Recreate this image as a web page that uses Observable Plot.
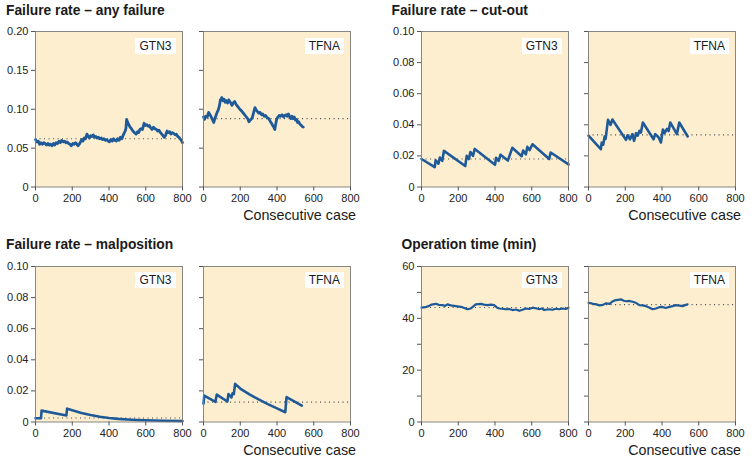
<!DOCTYPE html>
<html>
<head>
<meta charset="utf-8">
<script src="https://cdn.jsdelivr.net/npm/d3@7"></script>
<script src="https://cdn.jsdelivr.net/npm/@observablehq/plot@0.6"></script>
<style>
  body { margin: 0; background: #fff; }
  #root { position: relative; width: 755px; height: 461px; background: #fff; font-family: "Liberation Sans", Arial, sans-serif; overflow: hidden; }
  .title { position: absolute; font-size: 13.8px; font-weight: bold; color: #1a1a1a; white-space: nowrap; line-height: 1; }
  .xlab { position: absolute; font-size: 14.3px; color: #1a1a1a; white-space: nowrap; line-height: 1; text-align: right; }
  .tag { position: absolute; background: #fff; font-size: 12px; color: #1a1a1a; line-height: 16px; height: 16px; padding: 0 4px; white-space: nowrap; }
  .panel { position: absolute; }
</style>
</head>
<body>
<div id="root"></div>
<script>
// ---------- data ----------
const groupTitles = ["Failure rate – any failure", "Failure rate – cut-out", "Failure rate – malposition", "Operation time (min)"];
const implants = ["GTN3", "TFNA"];
const xTicks = [0, 200, 400, 600, 800];
const xLabel = "Consecutive case";

// any failure
const anyGTN3Case = [0,8,15,22,30,38,45,52,60,68,75,82,90,98,105,112,120,128,135,142,150,158,165,172,180,188,195,203,210,218,225,232,238,245,252,258,265,272,280,287,294,300,307,314,320,328,335,342,350,358,365,372,380,388,395,402,410,418,425,432,440,447,455,462,470,476,482,488,492,496,500,508,515,522,530,538,548,555,562,568,575,582,591,598,606,614,620,627,634,642,650,658,665,672,680,687,694,700,707,716,722,730,737,745,752,760,767,774,780,787,794,800];
const anyGTN3Rate = [0.061,0.058,0.059,0.055,0.057,0.055,0.057,0.056,0.054,0.056,0.054,0.055,0.053,0.056,0.054,0.057,0.056,0.059,0.057,0.060,0.058,0.059,0.057,0.058,0.056,0.055,0.053,0.056,0.055,0.057,0.055,0.053,0.055,0.058,0.061,0.059,0.063,0.062,0.068,0.065,0.063,0.066,0.065,0.067,0.064,0.065,0.063,0.064,0.062,0.063,0.061,0.062,0.060,0.061,0.059,0.058,0.061,0.059,0.062,0.060,0.059,0.062,0.060,0.064,0.062,0.066,0.069,0.072,0.075,0.087,0.084,0.080,0.077,0.075,0.072,0.070,0.068,0.071,0.070,0.074,0.075,0.074,0.082,0.079,0.080,0.078,0.079,0.076,0.074,0.077,0.075,0.074,0.072,0.073,0.070,0.068,0.066,0.064,0.066,0.072,0.070,0.071,0.068,0.070,0.069,0.067,0.068,0.065,0.064,0.062,0.060,0.057];
const anyTFNACase = [0,6,12,20,28,35,42,50,56,62,68,74,80,86,92,100,106,112,118,124,131,137,143,149,155,162,170,178,188,198,210,220,230,240,247,255,265,272,280,287,294,300,308,315,322,330,338,346,355,362,370,377,383,388,393,398,405,412,420,428,436,443,450,456,462,470,476,482,488,494,500,506,512,518,524,530,536,543];
const anyTFNARate = [0.090,0.087,0.091,0.090,0.096,0.093,0.090,0.086,0.083,0.088,0.092,0.096,0.099,0.104,0.112,0.115,0.111,0.113,0.109,0.111,0.108,0.112,0.110,0.108,0.105,0.108,0.110,0.106,0.103,0.100,0.097,0.094,0.091,0.088,0.084,0.086,0.089,0.095,0.102,0.099,0.097,0.095,0.096,0.093,0.094,0.091,0.092,0.089,0.088,0.085,0.082,0.079,0.077,0.074,0.081,0.087,0.090,0.092,0.091,0.093,0.090,0.092,0.093,0.091,0.094,0.090,0.088,0.091,0.088,0.090,0.086,0.087,0.083,0.084,0.081,0.080,0.078,0.077];
const anyRef = [0.062, 0.088];

// cut-out
const cutGTN3Case = [0,72,77,92,100,113,122,238,246,258,266,280,290,400,406,420,430,470,494,545,553,568,576,588,604,695,703,800];
const cutGTN3Rate = [0.0180,0.0128,0.0172,0.0150,0.0190,0.0168,0.0232,0.0135,0.0200,0.0180,0.0225,0.0200,0.0245,0.0143,0.0188,0.0168,0.0208,0.0170,0.0252,0.0198,0.0235,0.0210,0.0258,0.0237,0.0275,0.0180,0.0222,0.0145];
const cutTFNACase = [0,67,72,80,88,93,106,120,130,204,213,226,239,248,259,268,277,285,296,354,363,381,394,405,414,427,436,445,481,494,540];
const cutTFNARate = [0.0330,0.0243,0.0285,0.0272,0.0325,0.0310,0.0432,0.0400,0.0434,0.0303,0.0333,0.0307,0.0340,0.0297,0.0346,0.0330,0.0361,0.0350,0.0415,0.0307,0.0340,0.0320,0.0286,0.0370,0.0346,0.0374,0.0360,0.0415,0.0340,0.0415,0.0325];
const cutRef = [0.018, 0.0335];

// malposition
const malGTN3Case = [0,30,33,168,172,200,250,300,350,400,450,500,550,600,700,800];
const malGTN3Rate = [0.0024,0.0024,0.0073,0.0042,0.0086,0.0075,0.0058,0.0045,0.0034,0.0026,0.0020,0.0016,0.0013,0.0011,0.0008,0.0006];
const malTFNACase = [0,4,65,72,130,136,152,158,165,172,200,250,300,350,400,445,452,535];
const malTFNARate = [0.0118,0.0170,0.0130,0.0176,0.0132,0.0180,0.0158,0.0185,0.0180,0.0245,0.0215,0.0178,0.0145,0.0115,0.0088,0.0063,0.0160,0.0105];
const malRef = [0.0026, 0.0128];

// operation time
const opGTN3Case = [0,20,38,55,78,95,114,128,141,160,186,205,222,240,250,268,282,295,310,323,340,359,378,395,410,423,440,459,478,495,515,532,550,568,585,605,622,641,655,668,682,695,712,732,750,768,785,800];
const opGTN3Time = [44.1,44.3,44.7,45.3,45.6,45.2,45.1,44.8,45.4,45.0,44.7,44.5,44.3,43.8,43.5,43.8,44.6,45.4,45.5,45.6,45.3,45.1,45.3,45.1,44.2,43.8,43.7,43.5,43.6,43.2,43.4,42.9,43.3,43.8,43.6,44.1,43.9,43.5,43.8,43.2,43.4,43.5,43.3,43.7,43.5,43.8,43.6,44.1];
const opTFNACase = [0,10,25,43,60,79,95,115,128,142,160,178,192,205,222,241,260,277,295,313,330,349,367,385,403,420,440,458,476,494,512,525,539];
const opTFNATime = [46.0,45.9,45.6,45.4,45.0,45.2,45.8,45.6,46.4,46.9,47.1,47.3,46.8,46.6,46.7,46.4,45.9,45.1,45.0,44.7,44.2,43.5,43.8,44.3,44.4,44.0,44.4,44.7,45.1,44.9,44.7,45.1,45.4];
const opRef = [44.2, 45.3];

// ---------- layout ----------
const BG = "#fdeecf";
const LINE = "#1f5a98";
const panelW = 147, panelH = 155.5;
const mL = 36, mT = 6, mR = 12, mB = 26;
const groupX = [[34.5, 203], [420.7, 588]];
const groupY = [31, 265.5];

const fmtRate = d => d === 0 ? "0" : d.toFixed(2);
const groups = [
  {title: groupTitles[0], col: 0, row: 0, titleX: 6, xs: [anyGTN3Case, anyTFNACase], ys: [anyGTN3Rate, anyTFNARate], ref: anyRef, ymax: 0.20, yTicks: [0,0.05,0.10,0.15,0.20], yLabels: [0,0.05,0.10,0.15,0.20], fmt: fmtRate, sw: 2.8},
  {title: groupTitles[1], col: 1, row: 0, titleX: 391.5, xs: [cutGTN3Case, cutTFNACase], ys: [cutGTN3Rate, cutTFNARate], ref: cutRef, ymax: 0.10, yTicks: [0,0.02,0.04,0.06,0.08,0.10], yLabels: [0,0.02,0.04,0.06,0.08,0.10], fmt: fmtRate, sw: 2.6},
  {title: groupTitles[2], col: 0, row: 1, titleX: 6, xs: [malGTN3Case, malTFNACase], ys: [malGTN3Rate, malTFNARate], ref: malRef, ymax: 0.10, yTicks: [0,0.02,0.04,0.06,0.08,0.10], yLabels: [0,0.02,0.04,0.06,0.08,0.10], fmt: fmtRate, sw: 2.6},
  {title: groupTitles[3], col: 1, row: 1, titleX: 401.5, xs: [opGTN3Case, opTFNACase], ys: [opGTN3Time, opTFNATime], ref: opRef, ymax: 60, yTicks: [0,10,20,30,40,50,60], yLabels: [0,20,40,60], fmt: d => String(d), sw: 2.2}
];

const root = document.getElementById("root");

for (const g of groups) {
  const top = groupY[g.row];
  const t = document.createElement("div");
  t.className = "title";
  t.textContent = g.title;
  t.style.left = g.titleX + "px";
  t.style.top = (top - 27.5) + "px";
  root.appendChild(t);

  for (let i = 0; i < 2; i++) {
    const left = groupX[g.col][i];
    const data = g.xs[i].map((x, k) => ({x, y: g.ys[i][k]}));
    const chart = Plot.plot({
      width: mL + panelW + mR,
      height: mT + panelH + mB,
      marginLeft: mL, marginRight: mR, marginTop: mT, marginBottom: mB,
      x: {domain: [0, 800]},
      y: {domain: [0, g.ymax]},
      style: {fontFamily: "'Liberation Sans', Arial, sans-serif", fontSize: "11px", color: "#222", background: "transparent", overflow: "visible"},
      marks: [
        Plot.frame({fill: BG, stroke: null}),
        Plot.ruleY([g.ref[i]], {stroke: "#555", strokeWidth: 1.1, strokeDasharray: "1.1,3.4"}),
        Plot.line(data, {x: "x", y: "y", stroke: LINE, strokeWidth: g.sw, strokeLinejoin: "round", strokeLinecap: "round"}),
        Plot.frame({stroke: "#7a7a7a", strokeWidth: 0.9}),
        Plot.axisX({ticks: xTicks, tickSize: 4, tickPadding: 3.5, label: null, stroke: "#555"}),
        Plot.axisY({ticks: g.yTicks, tickSize: 4, tickPadding: 3, label: null, stroke: "#555", tickFormat: d => (i === 0 && g.yLabels.includes(d)) ? g.fmt(d) : ""})
      ]
    });
    chart.classList.add("panel");
    chart.style.left = (left - mL) + "px";
    chart.style.top = (top - mT) + "px";
    root.appendChild(chart);

    const tag = document.createElement("div");
    tag.className = "tag";
    tag.textContent = implants[i];
    root.appendChild(tag);
    const w = tag.getBoundingClientRect().width;
    tag.style.left = (left + panelW - 6 - w) + "px";
    tag.style.top = (top + 6.5) + "px";
  }

  const xl = document.createElement("div");
  xl.className = "xlab";
  xl.textContent = xLabel;
  root.appendChild(xl);
  const w = xl.getBoundingClientRect().width;
  xl.style.left = (groupX[g.col][1] + panelW + 6 - w) + "px";
  xl.style.top = (top + 177) + "px";
}
</script>
</body>
</html>
